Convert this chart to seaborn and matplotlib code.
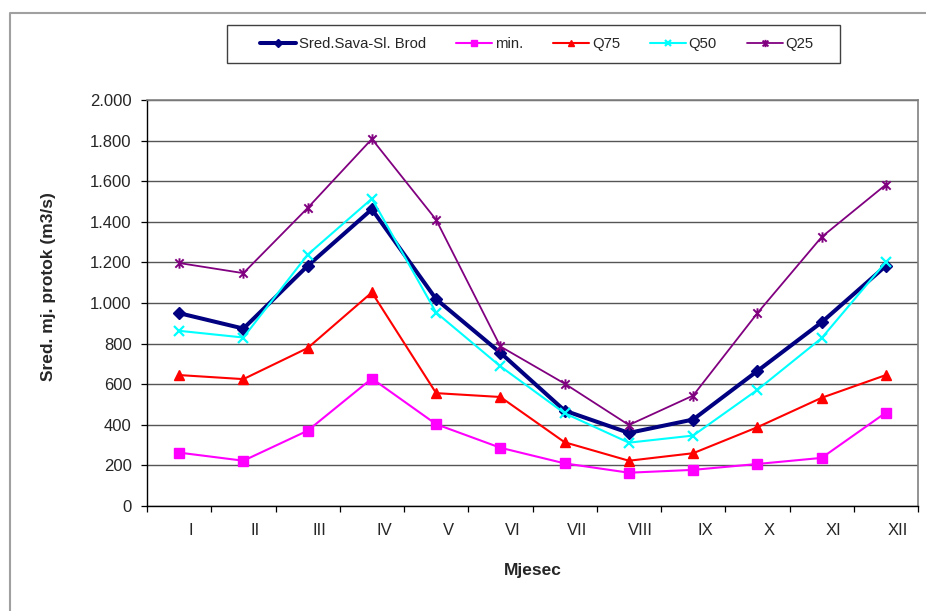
import matplotlib
matplotlib.use("Agg")
import matplotlib.pyplot as plt
import matplotlib.transforms as mtransforms
from matplotlib.path import Path
from matplotlib.lines import Line2D
from matplotlib.patches import Rectangle
from matplotlib.ticker import FixedLocator, FuncFormatter, NullFormatter
import numpy as np
import pandas as pd
import seaborn as sns

# Monthly discharge statistics, Sava at Slavonski Brod (m3/s)
months = ["I", "II", "III", "IV", "V", "VI", "VII", "VIII", "IX", "X", "XI", "XII"]
sred = [950, 874, 1183, 1462, 1019, 755, 470, 360, 426, 665, 905, 1183]
q_min = [263, 223, 371, 628, 403, 287, 210, 164, 178, 207, 237, 460]
q75 = [645, 625, 778, 1052, 556, 537, 314, 223, 260, 388, 533, 645]
q50 = [863, 830, 1238, 1514, 953, 688, 457, 312, 347, 572, 827, 1202]
q25 = [1197, 1147, 1468, 1808, 1410, 786, 603, 399, 544, 950, 1325, 1583]

series_names = ["Sred.Sava-Sl. Brod", "min.", "Q75", "Q50", "Q25"]

sns.set_style("white")
plt.rcParams["font.family"] = ["Liberation Sans", "DejaVu Sans"]

# Excel-like star marker: an "x" with a vertical bar through it
star = Path(
    [(-1, -1), (1, 1), (-1, 1), (1, -1), (0, -1.25), (0, 1.25)],
    [Path.MOVETO, Path.LINETO, Path.MOVETO, Path.LINETO, Path.MOVETO, Path.LINETO],
)

styles = {
    "Sred.Sava-Sl. Brod": dict(color="#000080", marker="D", lw=2.9, ms=6.5, mew=1.0),
    "min.": dict(color="#FF00FF", marker="s", lw=1.5, ms=6.8, mew=1.0),
    "Q75": dict(color="#FF0000", marker="^", lw=1.5, ms=7.0, mew=1.0),
    "Q50": dict(color="#00FFFF", marker="x", lw=1.5, ms=6.5, mew=1.6),
    "Q25": dict(color="#800080", marker=star, lw=1.3, ms=7.5, mew=1.4),
}

df = pd.DataFrame({
    "pos": np.arange(len(months)),
    "Mjesec": months,
    "Sred.Sava-Sl. Brod": sred,
    "min.": q_min,
    "Q75": q75,
    "Q50": q50,
    "Q25": q25,
})

W, H = 926, 611
fig = plt.figure(figsize=(W / 100, H / 100), dpi=100)
ax = fig.add_axes([147 / W, 1 - 506 / H, (918 - 147) / W, (506 - 100) / H])

for name in series_names:
    st = styles[name]
    sns.lineplot(
        data=df, x="pos", y=name, ax=ax, errorbar=None,
        color=st["color"], marker=st["marker"], linewidth=st["lw"],
        markersize=st["ms"], markeredgecolor=st["color"],
        markerfacecolor=st["color"], markeredgewidth=st["mew"],
        label=name, zorder=3,
    )

handles, labels = ax.get_legend_handles_labels()
if ax.get_legend() is not None:
    ax.get_legend().remove()

# axes limits, grid and spines
ax.set_xlim(-0.5, len(months) - 0.5)
ax.set_ylim(0, 2000)
ax.set_yticks(np.arange(0, 2001, 200))
ax.yaxis.set_major_formatter(FuncFormatter(lambda v, p: f"{v:,.0f}".replace(",", ".")))
ax.grid(axis="y", color="#555555", linewidth=1.0)
ax.grid(axis="x", visible=False)
ax.set_axisbelow(True)

ax.xaxis.set_major_locator(FixedLocator(np.arange(-0.5, len(months), 1.0)))
ax.xaxis.set_major_formatter(NullFormatter())
ax.xaxis.set_minor_locator(FixedLocator(np.arange(len(months))))
ax.set_xticklabels(months, minor=True)

ax.tick_params(axis="x", which="major", direction="out", length=4, width=0.9,
               color="black", bottom=True)
ax.tick_params(axis="x", which="minor", length=0, pad=12, labelsize=12, bottom=True)
ax.tick_params(axis="y", which="major", direction="out", length=4, width=0.9,
               color="black", pad=7, labelsize=12, left=True)

shift = mtransforms.ScaledTranslation(12 / 100, 0, fig.dpi_scale_trans)
for lbl in ax.get_xticklabels(minor=True):
    lbl.set_transform(lbl.get_transform() + shift)

for side in ("left", "bottom"):
    ax.spines[side].set_color("black")
    ax.spines[side].set_linewidth(1.0)
for side in ("top", "right"):
    ax.spines[side].set_color("#808080")
    ax.spines[side].set_linewidth(1.2)

ax.set_xlabel("Mjesec", fontsize=12.5, fontweight="bold")
ax.xaxis.set_label_coords(0.5, -(571 - 506) / 406)
ax.xaxis.label.set_va("center")
ax.set_ylabel("Sred. mj. protok (m3/s)", fontsize=12.5, fontweight="bold")
ax.yaxis.set_label_coords((48 - 147) / 771, (506 - 287) / 406)
ax.yaxis.label.set_va("center")

# legend with its own frame across the top
fig.patches.append(Rectangle((227 / W, 1 - 63 / H), (840 - 227) / W, 38 / H,
                             transform=fig.transFigure, fill=False,
                             edgecolor="#404040", linewidth=1.0))
fig.legend(handles, labels, loc="center", bbox_to_anchor=(537 / W, 1 - 44 / H),
           ncol=5, frameon=False, fontsize=10.75, handlelength=2.4,
           handletextpad=0.2, columnspacing=2.0, markerscale=0.7)

# outer chart border
fig.add_artist(Line2D([10 / W, 10 / W, 1.0], [0.0, 1 - 13 / H, 1 - 13 / H],
                      transform=fig.transFigure, color="#a0a0a0", linewidth=1.5))

fig.savefig("out.png", dpi=100)
